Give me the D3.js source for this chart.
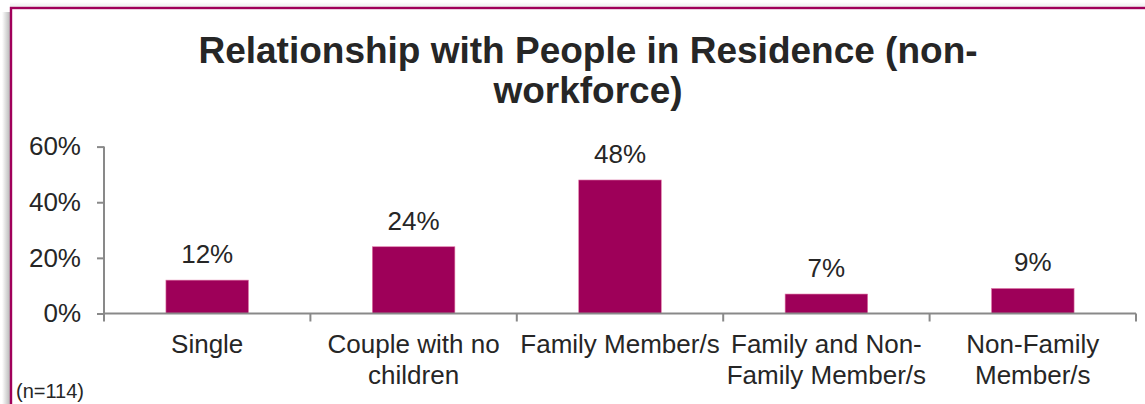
<!DOCTYPE html>
<html>
<head>
<meta charset="utf-8">
<script src="https://cdn.jsdelivr.net/npm/d3@7"></script>
<style>
  html, body { margin: 0; padding: 0; background: #fff; overflow: hidden; }
  svg { display: block; font-family: "Liberation Sans", Arial, sans-serif; }
</style>
</head>
<body>
<svg id="chart" width="1145" height="404"></svg>
<script>
const titleLines = ["Relationship with People in Residence (non-", "workforce)"];
const categories = ["Single", "Couple with no\nchildren", "Family Member/s", "Family and Non-\nFamily Member/s", "Non-Family\nMember/s"];
const values = [12, 24, 48, 7, 9];
const yTicks = [0, 20, 40, 60];
const note = "(n=114)";

const svg = d3.select("#chart");
const W = 1145, H = 404;
const textColor = "#262626";
const barColor = "#9e0059";
const axisColor = "#898989";
const fs = 26;

// frame shadow + border
const defs = svg.append("defs");
const g1 = defs.append("linearGradient").attr("id", "shadowL").attr("x1", 0).attr("x2", 1).attr("y1", 0).attr("y2", 0);
g1.append("stop").attr("offset", "0%").attr("stop-color", "#ffffff");
g1.append("stop").attr("offset", "100%").attr("stop-color", "#b8b8b8");
const g2 = defs.append("linearGradient").attr("id", "shadowT").attr("x1", 0).attr("x2", 0).attr("y1", 0).attr("y2", 1);
g2.append("stop").attr("offset", "0%").attr("stop-color", "#ffffff");
g2.append("stop").attr("offset", "100%").attr("stop-color", "#ececec");
svg.append("rect").attr("x", 2).attr("y", 12).attr("width", 8).attr("height", H).attr("fill", "url(#shadowL)");
svg.append("rect").attr("x", 10).attr("y", 2).attr("width", W).attr("height", 5).attr("fill", "url(#shadowT)");
svg.append("rect").attr("x", 11).attr("y", 8).attr("width", W + 20).attr("height", H + 20)
  .attr("fill", "#fff").attr("stroke", "#a0005a").attr("stroke-width", 2.4);

// title
svg.append("text").attr("x", 588).attr("y", 63).attr("text-anchor", "middle")
  .attr("font-size", 37).attr("font-weight", "bold").attr("fill", textColor)
  .selectAll("tspan").data(titleLines).join("tspan")
  .attr("x", 588).attr("dy", (d, i) => i === 0 ? 0 : 40).text(d => d);

// scales
const x0 = 104, x1 = 1136, y0 = 313.5, yTop = 146.6;
const x = d3.scaleBand().domain(categories).range([x0, x1]).paddingInner(0).paddingOuter(0);
const y = d3.scaleLinear().domain([0, 60]).range([y0, yTop]);
const barW = x.bandwidth() * 0.4;

// bars
svg.append("g").selectAll("rect").data(categories).join("rect")
  .attr("x", d => x(d) + (x.bandwidth() - barW) / 2)
  .attr("y", (d, i) => y(values[i]))
  .attr("width", barW)
  .attr("height", (d, i) => y0 - y(values[i]))
  .attr("fill", barColor)
  .attr("stroke", "#e07aa8").attr("stroke-width", 0.6);

// y axis
const yAxis = d3.axisLeft(y).tickValues(yTicks).tickSize(7).tickPadding(16).tickFormat(d => d + "%");
const gy = svg.append("g").attr("transform", `translate(${x0},0)`).call(yAxis);
gy.select(".domain").remove();
gy.selectAll(".tick line").attr("stroke", axisColor).attr("stroke-width", 2);
gy.selectAll(".tick text").attr("font-size", fs).attr("fill", textColor).attr("font-family", "Liberation Sans, Arial, sans-serif");
svg.append("line").attr("x1", x0).attr("x2", x0).attr("y1", y(60)).attr("y2", y0 + 8)
  .attr("stroke", axisColor).attr("stroke-width", 2);

// x axis
svg.append("line").attr("x1", x0).attr("x2", x1).attr("y1", y0).attr("y2", y0)
  .attr("stroke", axisColor).attr("stroke-width", 2);
const bounds = categories.map(c => x(c)).concat([x1]);
svg.append("g").selectAll("line").data(bounds.slice(1)).join("line")
  .attr("x1", d => d).attr("x2", d => d).attr("y1", y0).attr("y2", y0 + 8)
  .attr("stroke", axisColor).attr("stroke-width", 2);

// category labels
svg.append("g").selectAll("text").data(categories).join("text")
  .attr("text-anchor", "middle").attr("font-size", fs).attr("fill", textColor)
  .attr("y", 353)
  .each(function(d) {
    const cx = x(d) + x.bandwidth() / 2;
    d3.select(this).selectAll("tspan").data(d.split("\n")).join("tspan")
      .attr("x", cx).attr("dy", (t, i) => i === 0 ? 0 : 31).text(t => t);
  });

// value labels
svg.append("g").selectAll("text").data(categories).join("text")
  .attr("text-anchor", "middle").attr("font-size", fs).attr("fill", textColor)
  .attr("x", d => x(d) + x.bandwidth() / 2)
  .attr("y", (d, i) => y(values[i]) - 17)
  .text((d, i) => values[i] + "%");

// note
svg.append("text").attr("x", 16).attr("y", 398).attr("font-size", 20).attr("fill", textColor).text(note);
</script>
</body>
</html>
